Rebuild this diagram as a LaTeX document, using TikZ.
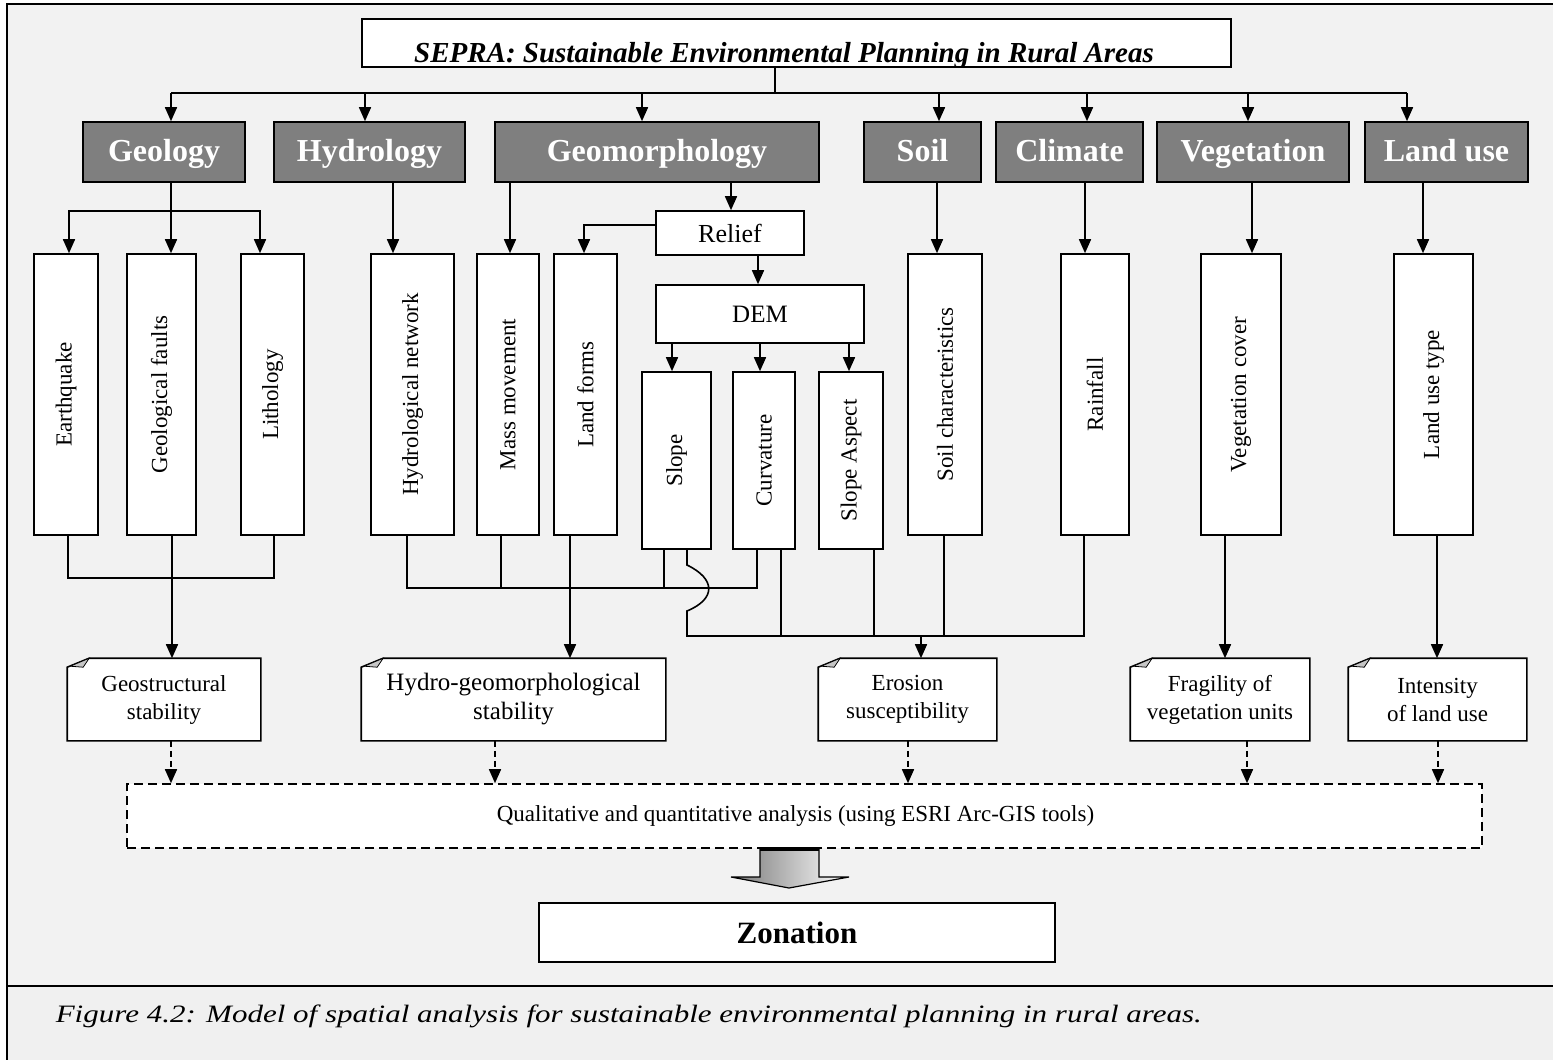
\documentclass[tikz,border=0pt]{standalone}
\usepackage{graphicx}
\usepackage{fontspec}
\setmainfont{Liberation Serif}
\usetikzlibrary{arrows.meta,backgrounds}
\definecolor{HeadGray}{HTML}{7F7F7F}
\definecolor{PaperGray}{HTML}{F2F2F2}
\definecolor{CapGray}{HTML}{F0F0F0}
\newcommand{\boxfont}{\fontsize{23}{28}\selectfont}

\begin{document}
\begin{tikzpicture}[x=1pt,y=-1pt,line width=1.6pt,
    arr/.style={-{Triangle[length=14pt,width=12pt]}},
    topbox/.style={draw,fill=white,inner sep=0pt},
    headbox/.style={draw,fill=HeadGray,text=white,inner sep=0pt,minimum height=60pt,
      text height=24pt,text depth=5pt,font=\bfseries\fontsize{32}{36}\selectfont},
    itembox/.style={draw,fill=white,inner sep=0pt},
    docbox/.style={inner sep=0pt,minimum height=81pt,align=center,font=\boxfont},
    vtext/.style={rotate=90,font=\boxfont}]
    \useasboundingbox (0,0) rectangle (1553,1060);
    \begin{scope}[on background layer]
        \fill[PaperGray] (7,4) rectangle (1553,986);
        \fill[CapGray] (7,986) rectangle (1553,1060);
    \end{scope}
    \draw[line width=2pt] (7,1060) -- (7,4) -- (1553,4);
    \draw[line width=2pt] (7,986) -- (1553,986);

    % title
    \node[topbox,minimum width=869pt,minimum height=48pt] (sepra) at (796.5,43) {};
    \begin{scope}
        \clip (sepra.south west) rectangle (sepra.north east);
        \node[anchor=base,font=\bfseries\itshape\fontsize{29}{32}\selectfont] (sepratext) at (784,62)
            {SEPRA: Sustainable Environmental Planning in Rural Areas};
    \end{scope}

    % themes
    \node[headbox,minimum width=162pt] (geology) at (164,152) {Geology};
    \node[headbox,minimum width=191pt] (hydrology) at (369.5,152) {Hydrology};
    \node[headbox,minimum width=324pt] (geomorph) at (657,152) {Geomorphology};
    \node[headbox,minimum width=117pt] (soil) at (922.5,152) {Soil};
    \node[headbox,minimum width=147pt] (climate) at (1069.5,152) {Climate};
    \node[headbox,minimum width=192pt] (vegetation) at (1253,152) {Vegetation};
    \node[headbox,minimum width=163pt] (landuse) at (1446.5,152) {Land use};

    \coordinate (topbus) at (775,93);
    \draw (sepra.south -| topbus) -- (topbus);
    \draw (171,93) -- (1407,93);
    \foreach \n/\x in {geology/171,hydrology/365,geomorph/642,soil/939,climate/1087,vegetation/1248,landuse/1407}
        \draw[arr] (\x,93) -- (\n.north -| \x,0);

    % factors
    \node[itembox,minimum width=64pt,minimum height=281pt,label={[vtext]center:Earthquake}] (quake) at (66,394.5) {};
    \node[itembox,minimum width=69pt,minimum height=281pt,label={[vtext]center:Geological faults}] (faults) at (161.5,394.5) {};
    \node[itembox,minimum width=63pt,minimum height=281pt,label={[vtext]center:Lithology}] (litho) at (272.5,394.5) {};
    \node[itembox,minimum width=83pt,minimum height=281pt,label={[vtext]center:Hydrological network}] (hydnet) at (412.5,394.5) {};
    \node[itembox,minimum width=62pt,minimum height=281pt,label={[vtext]center:Mass movement}] (mass) at (508,394.5) {};
    \node[itembox,minimum width=63pt,minimum height=281pt,label={[vtext]center:Land forms}] (landforms) at (585.5,394.5) {};
    \node[itembox,minimum width=74pt,minimum height=281pt,label={[vtext]center:Soil characteristics}] (soilchar) at (945,394.5) {};
    \node[itembox,minimum width=68pt,minimum height=281pt,label={[vtext]center:Rainfall}] (rainfall) at (1095,394.5) {};
    \node[itembox,minimum width=80pt,minimum height=281pt,label={[vtext]center:Vegetation cover}] (vegcover) at (1241,394.5) {};
    \node[itembox,minimum width=79pt,minimum height=281pt,label={[vtext]center:Land use type}] (lutype) at (1433.5,394.5) {};

    \node[itembox,minimum width=148pt,minimum height=44pt,font=\fontsize{26}{30}\selectfont] (relief) at (730,233) {Relief};
    \node[itembox,minimum width=208pt,minimum height=58pt,font=\fontsize{25}{30}\selectfont] (dem) at (760,314) {DEM};
    \node[itembox,minimum width=69pt,minimum height=177pt,label={[vtext]center:Slope}] (slope) at (676.5,460.5) {};
    \node[itembox,minimum width=62pt,minimum height=177pt,label={[vtext]center:Curvature}] (curv) at (764,460.5) {};
    \node[itembox,minimum width=64pt,minimum height=177pt,label={[vtext]center:Slope Aspect}] (aspect) at (851,460.5) {};

    \coordinate (geobr) at (171,211);
    \draw (geology.south -| geobr) -- (geobr);
    \draw[arr] (geobr) -- (faults.north -| geobr);
    \draw[arr] (geobr) -| (quake.north -| 69,0);
    \draw[arr] (geobr) -| (litho.north -| 260,0);
    \draw[arr] (hydrology.south -| 393,0) -- (hydnet.north -| 393,0);
    \draw[arr] (geomorph.south -| 510,0) -- (mass.north -| 510,0);
    \draw[arr] (geomorph.south -| 731,0) -- (relief.north -| 731,0);
    \draw[arr] (relief.west |- 0,225) -| (landforms.north -| 584,0);
    \draw[arr] (relief.south -| 758,0) -- (dem.north -| 758,0);
    \draw[arr] (dem.south -| 672,0) -- (slope.north -| 672,0);
    \draw[arr] (dem.south -| 760,0) -- (curv.north -| 760,0);
    \draw[arr] (dem.south -| 849,0) -- (aspect.north -| 849,0);
    \draw[arr] (soil.south -| 937,0) -- (soilchar.north -| 937,0);
    \draw[arr] (climate.south -| 1085,0) -- (rainfall.north -| 1085,0);
    \draw[arr] (vegetation.south -| 1252,0) -- (vegcover.north -| 1252,0);
    \draw[arr] (landuse.south -| 1423,0) -- (lutype.north -| 1423,0);

    % results
    \node[docbox,minimum width=192pt] (geostr) at (164,699.5) {Geostructural\\stability};
    \node[docbox,minimum width=303pt,font=\fontsize{25}{29}\selectfont] (hydgeo) at (513.5,699.5) {Hydro-geomorphological\\stability};
    \node[docbox,minimum width=177pt] (erosion) at (907.5,699.5) {Erosion\\susceptibility};
    \node[docbox,minimum width=178pt] (fragility) at (1220,699.5) {Fragility of\\vegetation units};
    \node[docbox,minimum width=177pt] (intensity) at (1437.5,699.5) {Intensity\\of land use};
    \begin{scope}[on background layer,line width=1.6pt]
        \foreach \n in {geostr,hydgeo,erosion,fragility,intensity}{
            \draw[line width=1.6pt,fill=white] (\n.south west) -- (\n.south east) -- (\n.north east)
                -- ([xshift=22pt]\n.north west) -- ([yshift=-9pt]\n.north west) -- cycle;
            \draw[fill=gray!45,line width=0.8pt] ([xshift=22pt]\n.north west)
                -- ([xshift=3pt,yshift=-8pt]\n.north west) -- ([xshift=16pt,yshift=-9pt]\n.north west) -- cycle;
        }
    \end{scope}

    % collectors
    \draw (quake.south -| 68,0) -- (68,578) -- (274,578) -- (litho.south -| 274,0);
    \draw[arr] (faults.south -| 172,0) -- (geostr.north -| 172,0);
    \draw (hydnet.south -| 407,0) -- (407,588) -- (757,588) -- (curv.south -| 757,0);
    \draw (mass.south -| 501,0) -- (501,588);
    \draw (slope.south -| 664,0) -- (664,588);
    \draw[arr] (landforms.south -| 570,0) -- (hydgeo.north -| 570,0);
    \draw (slope.south -| 687,0) -- (687,565) .. controls (716,579) and (716,599) .. (687,611)
        -- (687,636) -- (1084,636) -- (rainfall.south -| 1084,0);
    \draw (curv.south -| 781,0) -- (781,636);
    \draw (aspect.south -| 874,0) -- (874,636);
    \draw (soilchar.south -| 944,0) -- (944,636);
    \draw[arr] (921,636) -- (erosion.north -| 921,0);
    \draw[arr] (vegcover.south -| 1225,0) -- (fragility.north -| 1225,0);
    \draw[arr] (lutype.south -| 1437,0) -- (intensity.north -| 1437,0);

    % analysis and zonation
    \node[itembox,dash pattern=on 9pt off 5pt,minimum width=1355pt,minimum height=64pt,font=\boxfont] (analysis) at (804.5,816)
        {\hspace*{-18pt}\raisebox{5pt}{Qualitative and quantitative analysis (using ESRI Arc-GIS tools)}};
    \foreach \n/\x in {geostr/171,hydgeo/495,erosion/908,fragility/1247,intensity/1438}
        \draw[arr,dash pattern=on 6pt off 4pt] (\n.south -| \x,0) -- (analysis.north -| \x,0);

    \node[topbox,minimum width=516pt,minimum height=59pt,font=\bfseries\fontsize{31}{34}\selectfont] (zonation) at (797,932.5) {Zonation};
    \coordinate (tip) at (789,888);
    \shade[left color=gray!95!black,right color=white,draw=black,line width=1.2pt]
        (analysis.south -| 760,0) -- (760,877) -- (731,877) -- (tip) -- (849,877)
        -- (819,877) -- (analysis.south -| 819,0) -- cycle;
    \draw[line width=3.5pt] (analysis.south -| 760,0) -- (analysis.south -| 819,0);

    % caption
    \node[anchor=base west,inner sep=0pt] (caption) at (55,1022)
        {\scalebox{1.24}[1]{\itshape\fontsize{25}{28}\selectfont Figure 4.2: Model of spatial analysis for sustainable environmental planning in rural areas.}};
\end{tikzpicture}
\end{document}
